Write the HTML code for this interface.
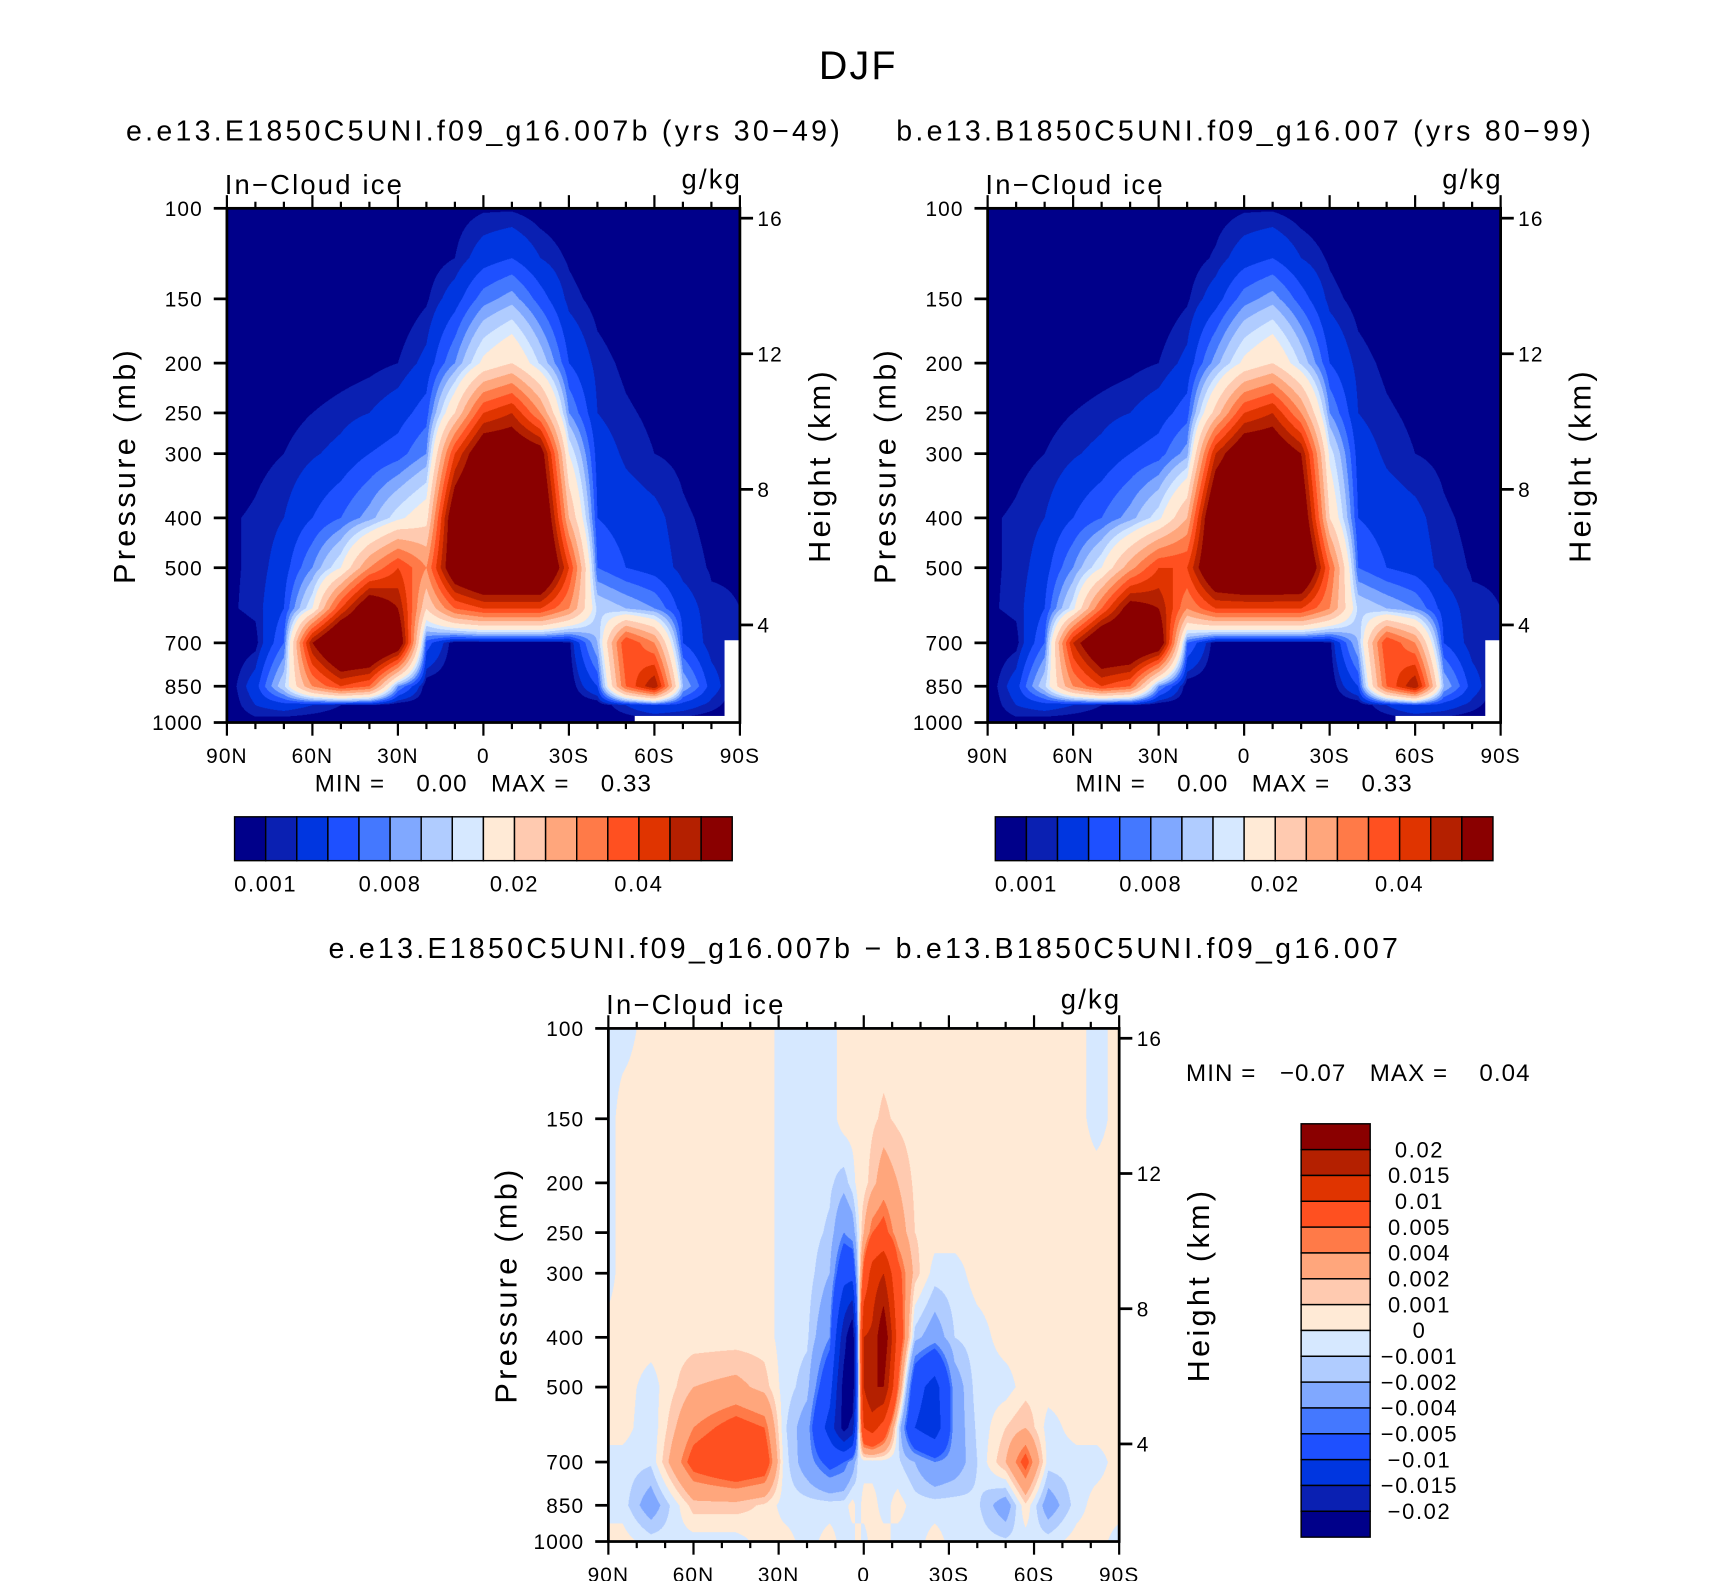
<!DOCTYPE html>
<html><head><meta charset="utf-8">
<style>
html,body{margin:0;padding:0;background:#fff;}
#wrap{position:absolute;left:0;top:0;width:1560px;height:1442px;transform:scale(1.09615,1.09639);transform-origin:0 0;}
svg text{font-family:"Liberation Sans",sans-serif;fill:#000;white-space:pre;}
canvas{position:absolute;}
</style></head>
<body>
<div id="wrap">
<canvas id="c1" style="left:207px;top:190px;width:468px;height:469px" width="936" height="938"></canvas>
<canvas id="c2" style="left:901px;top:190px;width:468px;height:469px" width="936" height="938"></canvas>
<canvas id="c3" style="left:555px;top:938px;width:466px;height:468px" width="932" height="936"></canvas>
<svg id="ov" width="1560" height="1442" style="position:absolute;left:0;top:0"></svg>
</div>
<script>
// ---- data ----
const levels = [0.001,0.002,0.004,0.006,0.008,0.01,0.0125,0.015,0.02,0.025,0.03,0.035,0.04,0.045,0.05];
const diffLevels = [-0.02,-0.015,-0.01,-0.005,-0.004,-0.002,-0.001,0,0.001,0.002,0.004,0.005,0.01,0.015,0.02];
const colors = ["#00008a","#0a20b2","#0036e0","#1e50ff","#4478ff","#80a8ff","#b0ccff","#d6e8ff","#ffead6","#ffcab0","#ffa67c","#ff7a48","#ff5020","#e03400","#b42000","#8a0000"];
const barLabels = ["0.001","0.008","0.02","0.04"];
const diffBarLabels = ["0.02","0.015","0.01","0.005","0.004","0.002","0.001","0","\u22120.001","\u22120.002","\u22120.004","\u22120.005","\u22120.01","\u22120.015","\u22120.02"];
const pTicks = [100,150,200,250,300,400,500,700,850,1000];
const hTicks = [16,12,8,4];
const latTicks = ["90N","60N","30N","0","30S","60S","90S"];

const lats = [90,80,70,60,50,40,30,20,10,0,-10,-20,-30,-40,-50,-60,-70,-80,-90];
const pres = [100,125,150,200,250,300,400,500,600,700,850,925,1000];
const field1 = [
[0,0,0,0,0,0,0,0,0.0004,0.0008,0.0008,0.0003,0,0,0,0,0,0,0],
[0,0,0,0,0,0,0,0.0003,0.001,0.003,0.004,0.002,0.0008,0,0,0,0,0,0],
[0,0,0,0,0,0,0,0.0008,0.003,0.007,0.009,0.005,0.0015,0.0005,0,0,0,0,0],
[0,0,0,0,0.0003,0.0006,0.001,0.0025,0.008,0.016,0.02,0.012,0.004,0.0015,0.0007,0.0002,0,0,0],
[0,0,0.0005,0.001,0.0015,0.002,0.003,0.005,0.02,0.04,0.045,0.03,0.008,0.002,0.0012,0.0007,0.0002,0,0],
[0,0.0006,0.001,0.0018,0.0025,0.004,0.005,0.008,0.04,0.06,0.06,0.055,0.015,0.003,0.0017,0.001,0.0007,0.0002,0],
[0.0008,0.0012,0.002,0.004,0.006,0.009,0.014,0.018,0.06,0.07,0.07,0.065,0.025,0.004,0.003,0.0025,0.0012,0.0007,0],
[0.0008,0.0012,0.003,0.008,0.015,0.03,0.04,0.03,0.06,0.07,0.07,0.07,0.04,0.006,0.004,0.003,0.0015,0.0009,0.0009],
[0.0008,0.0013,0.004,0.015,0.04,0.06,0.05,0.02,0.035,0.04,0.04,0.04,0.03,0.012,0.01,0.008,0.003,0.0012,0.001],
[0,0.0005,0.006,0.05,0.07,0.07,0.06,0.005,0,0,0,0,0.0005,0.01,0.04,0.03,0.004,0.0012,0.001],
[0,0.003,0.012,0.03,0.04,0.035,0.008,0,0,0,0,0,0,0.004,0.035,0.05,0.01,0.003,0],
[0,0.002,0.003,0.002,0.001,0.0008,0,0,0,0,0,0,0,0,0.002,0.004,0.003,0.0015,0],
[0,0.0005,0,0,0,0,0,0,0,0,0,0,0,0,0,0,0,0,0]
];
const field2 = [
[0,0,0,0,0,0,0,0,0.0004,0.0008,0.0008,0.0003,0,0,0,0,0,0,0],
[0,0,0,0,0,0,0,0.0003,0.0012,0.003,0.004,0.002,0.0008,0,0,0,0,0,0],
[0,0,0,0,0,0,0,0.0008,0.003,0.007,0.009,0.005,0.0015,0.0005,0,0,0,0,0],
[0,0,0,0,0.0003,0.0006,0.001,0.0025,0.009,0.016,0.02,0.012,0.004,0.0015,0.0007,0.0002,0,0,0],
[0,0,0.0005,0.001,0.0015,0.002,0.003,0.005,0.022,0.04,0.045,0.03,0.008,0.002,0.0012,0.0007,0.0002,0,0],
[0,0.0006,0.001,0.0018,0.0025,0.004,0.005,0.009,0.045,0.06,0.06,0.05,0.014,0.003,0.0017,0.001,0.0007,0.0002,0],
[0.0008,0.0012,0.002,0.004,0.006,0.009,0.014,0.025,0.065,0.07,0.07,0.06,0.02,0.004,0.003,0.0025,0.0012,0.0007,0],
[0.0008,0.0012,0.003,0.008,0.015,0.028,0.04,0.04,0.065,0.07,0.07,0.068,0.035,0.006,0.004,0.003,0.0015,0.0009,0.0009],
[0.0008,0.0013,0.004,0.014,0.035,0.055,0.05,0.03,0.04,0.04,0.04,0.04,0.03,0.012,0.01,0.008,0.003,0.0012,0.001],
[0,0.0005,0.006,0.045,0.065,0.065,0.06,0.006,0,0,0,0,0.0005,0.01,0.04,0.03,0.004,0.0012,0.001],
[0,0.003,0.012,0.03,0.04,0.035,0.008,0,0,0,0,0,0,0.004,0.035,0.05,0.01,0.003,0],
[0,0.002,0.003,0.002,0.001,0.0008,0,0,0,0,0,0,0,0,0.002,0.004,0.003,0.0015,0],
[0,0.0005,0,0,0,0,0,0,0,0,0,0,0,0,0,0,0,0,0]
];
const dLats = [90,85,75,60,45,35,28,20,12,7,4,2,0,-3,-7,-12,-18,-25,-32,-40,-50,-57,-65,-75,-82,-90];
const dPres = [100,150,200,250,300,400,500,600,700,850,1000];
// values in units of 1e-4 g/kg
const dField = [
[-5,-5,5,5,5,5,-5,-5,-5,5,5,5,5,5,5,5,5,5,5,5,5,5,5,5,-5,5],
[-5,5,5,5,5,5,-5,-5,-5,5,5,5,5,8,12,8,5,5,5,5,5,5,5,5,-5,5],
[-5,5,5,5,5,5,-5,-5,-8,-15,-5,5,5,15,30,20,8,5,5,5,5,5,5,5,5,5],
[-5,5,5,5,5,5,-5,-5,-12,-40,-30,-5,20,50,60,30,10,5,5,5,5,5,5,5,5,5],
[-5,5,5,5,5,5,-5,-5,-20,-80,-80,-10,60,120,150,60,15,-5,-5,5,5,5,5,5,5,5],
[5,5,5,5,5,5,-5,-8,-40,-180,-250,-20,150,160,250,80,-15,-30,-10,-5,5,5,5,5,5,5],
[5,5,-5,20,25,15,-5,-15,-80,-220,-250,-30,150,200,200,50,-80,-120,-30,-5,-5,5,5,5,5,5],
[5,5,-8,40,60,50,-8,-30,-120,-220,-180,-20,100,120,80,-5,-100,-130,-30,-8,10,20,-5,5,5,5],
[-5,-5,-8,60,80,70,-5,-30,-60,-50,-30,-8,-5,-5,-5,-8,-20,-40,-30,-10,20,60,-5,-5,-5,5],
[-5,-5,-30,15,15,8,-5,-5,-5,-5,5,-5,5,5,-5,5,-5,-5,-5,-8,-30,8,-30,-5,5,5],
[5,5,-5,-5,-5,5,5,-5,5,-5,-5,5,-5,5,5,-5,-5,5,-5,-5,-8,-5,-5,5,5,-5]
];

// ---- rendering ----
function bracket(arr, v, desc){
  for(let i=0;i<arr.length-1;i++){
    const a=arr[i],b=arr[i+1];
    if(desc ? (v<=a && v>=b) : (v>=a && v<=b)) return [i,(v-a)/(b-a)];
  }
  return desc ? (v>arr[0]?[0,0]:[arr.length-2,1]) : (v<arr[0]?[0,0]:[arr.length-2,1]);
}
function hex(c){return [parseInt(c.substr(1,2),16),parseInt(c.substr(3,2),16),parseInt(c.substr(5,2),16)];}
const rgb = colors.map(hex);
function renderField(id, latArr, presArr, field, lv, scale){
  const cv=document.getElementById(id), ctx=cv.getContext('2d');
  const W=cv.width,H=cv.height, img=ctx.createImageData(W,H);
  const lp=presArr.map(p=>Math.log10(p));
  for(let y=0;y<H;y++){
    const L=2+(y+0.5)/H;
    const [i,ty]=bracket(lp,L,false);
    for(let x=0;x<W;x++){
      const lat=90-180*(x+0.5)/W;
      const [j,tx]=bracket(latArr,lat,true);
      const v=((field[i][j]*(1-tx)+field[i][j+1]*tx)*(1-ty)+(field[i+1][j]*(1-tx)+field[i+1][j+1]*tx)*ty)*scale;
      let k=0; while(k<lv.length && v>=lv[k]) k++;
      const c=rgb[k], o=(y*W+x)*4;
      img.data[o]=c[0];img.data[o+1]=c[1];img.data[o+2]=c[2];img.data[o+3]=255;
    }
  }
  ctx.putImageData(img,0,0);
}
renderField('c1',lats,pres,field1,levels,1);
renderField('c2',lats,pres,field2,levels,1);
renderField('c3',dLats,dPres,dField,diffLevels,1e-4);

// ---- axes/overlay ----
const NS='http://www.w3.org/2000/svg', ov=document.getElementById('ov');
function el(tag,attrs,parent,txt){const e=document.createElementNS(NS,tag);for(const k in attrs)e.setAttribute(k,attrs[k]);if(txt!==undefined)e.textContent=txt;(parent||ov).appendChild(e);return e;}
function txt(x,y,s,size,anchor,name,rot,ls){
  const t=el('text',{x:x,y:y,'font-size':size,'text-anchor':anchor||'middle','letter-spacing':ls||0},ov,s);
  if(rot)t.setAttribute('transform','rotate(-90 '+x+' '+y+')');
  
  
  return t;
}
function panel(L,T,W,H,pfx,white){
  const g=el('g',{});
  
  
  if(white){
    el('rect',{x:L+W-14,y:T+H*0.84,width:14,height:H*0.16,fill:'#fff'},g);
    el('rect',{x:L+W*0.795,y:T+H-6,width:W*0.2,height:6,fill:'#fff'},g);
  }
  el('rect',{x:L,y:T,width:W,height:H,fill:'none',stroke:'#000','stroke-width':2.5},g);
  const ly=p=>T+(Math.log10(p)-2)*H;
  pTicks.forEach(p=>{
    el('line',{x1:L-12,x2:L,y1:ly(p),y2:ly(p),stroke:'#000','stroke-width':2.5},g);
    txt(L-22,ly(p)+7,String(p),19,'end',pfx+'-pressure-tick-'+p,false,1);
  });
  const hy=h=>T+9+(16-h)*((H-98)/12);
  hTicks.forEach(h=>{
    el('line',{x1:L+W,x2:L+W+12,y1:hy(h),y2:hy(h),stroke:'#000','stroke-width':2.5},g);
    txt(L+W+16,hy(h)+7,String(h),19,'start',pfx+'-height-tick-'+h,false,1);
  });
  for(let d=0;d<=18;d++){
    const x=L+W*d/18, maj=d%3===0, len=maj?12:6;
    el('line',{x1:x,x2:x,y1:T-len,y2:T,stroke:'#000','stroke-width':2},g);
    el('line',{x1:x,x2:x,y1:T+H,y2:T+H+len,stroke:'#000','stroke-width':2},g);
    if(maj) txt(x,T+H+37,latTicks[d/3],19,'middle',pfx+'-lat-tick-'+latTicks[d/3],false,1);
  }
  txt(L-2,T-13,'In\u2212Cloud ice',25,'start',pfx+'-variable-label',false,2);
  txt(L+W+2,T-18,'g/kg',25,'end',pfx+'-units-label',false,2);
  txt(L-84,T+H/2,'Pressure (mb)',28,'middle',pfx+'-y-axis-title',true,3);
  txt(L+W+82,T+H/2,'Height (km)',28,'middle',pfx+'-y2-axis-title',true,3);
}
txt(783,72,'DJF',36,'middle','figure-title',false,2);
txt(442,128,'e.e13.E1850C5UNI.f09_g16.007b (yrs 30\u221249)',26,'middle','left-panel-title',false,3);
txt(1136,128,'b.e13.B1850C5UNI.f09_g16.007 (yrs 80\u221299)',26,'middle','right-panel-title',false,3);
txt(789,874,'e.e13.E1850C5UNI.f09_g16.007b \u2212 b.e13.B1850C5UNI.f09_g16.007',26,'middle','diff-panel-title',false,3);
panel(207,190,468,469,'control',true);
panel(901,190,468,469,'base',true);
panel(555,938,466,468,'diff',false);
txt(441,722,'MIN =    0.00   MAX =    0.33',22,'middle','control-min-max',false,1);
txt(1135,722,'MIN =    0.00   MAX =    0.33',22,'middle','base-min-max',false,1);
txt(1082,986,'MIN =   \u22120.07   MAX =    0.04',22,'start','diff-min-max',false,1);
function hbar(L,T,W,H,pfx){
  const bw=W/colors.length;
  colors.forEach((c,i)=>{
    const r=el('rect',{x:L+i*bw,y:T,width:bw,height:H,fill:c,stroke:'#000','stroke-width':1.3});
    
    
  });
  barLabels.forEach((s,k)=>txt(L+bw*(1+4*k),T+H+28,s,20,'middle',pfx+'-colorbar-label',false,1.5));
}
hbar(214,745,454,40,'control');
hbar(908,745,454,40,'base');
const vbh=(1402-1025)/16;
colors.slice().reverse().forEach((c,i)=>{
  const r=el('rect',{x:1187,y:1025+i*vbh,width:63,height:vbh,fill:c,stroke:'#000','stroke-width':1.3});
  
  
});
diffBarLabels.forEach((s,i)=>txt(1295,1025+(i+1)*vbh+7,s,20,'middle','diff-colorbar-label',false,1.5));
</script>
</body></html>
